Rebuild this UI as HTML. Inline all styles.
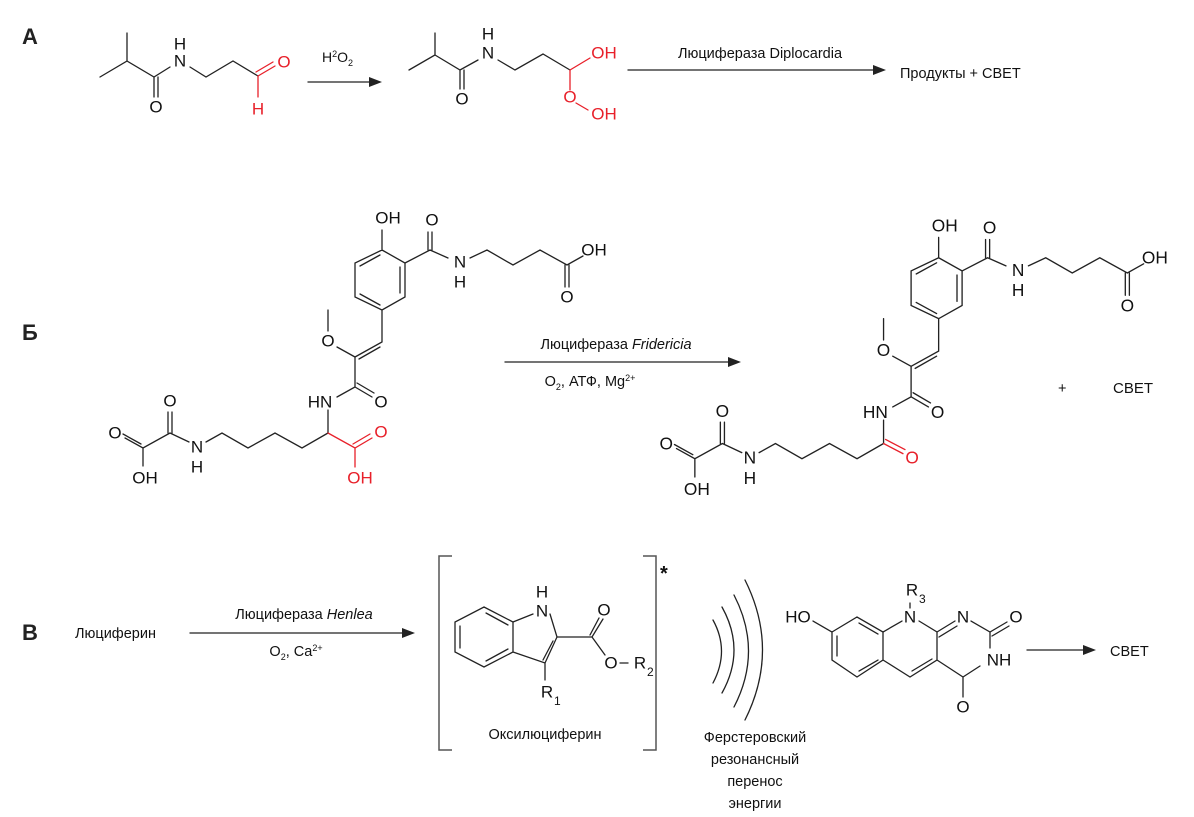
<!DOCTYPE html>
<html><head><meta charset="utf-8"><style>
html,body{margin:0;padding:0;background:#fff;}
svg{display:block;font-family:"Liberation Sans",Arial,sans-serif;}
.b{stroke:#222;stroke-width:1.3;fill:none;stroke-linecap:round}
.r{stroke:#e8202a;stroke-width:1.3;fill:none;stroke-linecap:round}
.t{fill:#111;font-size:17px;text-anchor:middle;dominant-baseline:central}
.tr{fill:#e8202a;font-size:17px;text-anchor:middle;dominant-baseline:central}
.l{fill:#111;font-size:14.5px;text-anchor:middle}
</style></head><body>
<svg width="1194" height="817" viewBox="0 0 1194 817" xmlns="http://www.w3.org/2000/svg">
<text x="22" y="44" font-size="22" font-weight="bold" fill="#222">А</text>
<text x="22" y="340" font-size="22" font-weight="bold" fill="#222">Б</text>
<text x="22" y="640" font-size="22" font-weight="bold" fill="#222">В</text>

<path class="b" d="M100,77 L127,61 L127,33 M127,61 L154,77 L170,67 M154,77 L154,97 M158,77 L158,97 M190,67 L206,77 L233,61 L258,76"/>
<text class="t" x="156" y="107">O</text>
<text class="t" x="180" y="61">N</text>
<text class="t" x="180" y="44">H</text>
<path class="r" d="M258,76 L275,66 M256,72 L273,62 M258,76 L258,97"/>
<text class="tr" x="284" y="62">O</text>
<text class="tr" x="258" y="109">H</text>
<path class="b" d="M308,82 L372,82"/><path d="M382,82 L369,77 L369,87Z" fill="#222"/>
<text x="322" y="62" font-size="14" fill="#111">H<tspan font-size="9" dy="-5">2</tspan><tspan dy="5">O</tspan><tspan font-size="9" dy="4">2</tspan></text>

<path class="b" d="M409,70 L435,55 L435,33 M435,55 L460,70 L478,60 M460,70 L460,89 M464,70 L464,89 M498,60 L515,70 L543,54 L570,70"/>
<text class="t" x="462" y="99">O</text>
<text class="t" x="488" y="53">N</text>
<text class="t" x="488" y="34">H</text>
<path class="r" d="M570,70 L590,58 M570,70 L570,90 M576,103 L588,110"/>
<text class="tr" x="604" y="53">OH</text>
<text class="tr" x="570" y="97">O</text>
<text class="tr" x="604" y="114">OH</text>
<path class="b" d="M628,70 L875,70"/><path d="M886,70 L873,65 L873,75Z" fill="#222"/>
<text class="l" x="760" y="58">Люцифераза Diplocardia</text>
<text x="900" y="78" font-size="14.5" fill="#111">Продукты + СВЕТ</text>

<g id="br">
<path class="b" d="M382,250 L382,230 M382,250 L405,263 L405,297 L382,310 L355,297 L355,263 Z M360,266 L380,255 M400,267 L400,293 M360,294 L380,305
M405,263 L430,250 L448,258 M428,250 L428,232 M432,250 L432,232 M470,258 L487,250 L513,265 L540,250 L567,265 L583,256 M565,265 L565,287 M569,265 L569,287
M382,310 L382,342 L355,357 M380,347 L359,359 M355,357 L337,347 M328,331 L328,310 M355,357 L355,387 L337,397 M355,387 L372,397 M357,383 L374,393
M328,410 L328,433"/>
<text class="t" x="388" y="218">OH</text>
<text class="t" x="432" y="220">O</text>
<text class="t" x="460" y="262">N</text>
<text class="t" x="460" y="282">H</text>
<text class="t" x="594" y="250">OH</text>
<text class="t" x="567" y="297">O</text>
<text class="t" x="328" y="341">O</text>
<text class="t" x="381" y="402">O</text>
<text class="t" x="320" y="402">HN</text>
<path class="b" d="M328,433 L302,448 L275,433 L248,448 L222,433 L206,442 M189,442 L170,433 L143,448 L125,438 M168,433 L168,412 M172,433 L172,412 M141,444 L123,434 M143,448 L143,466"/>
<text class="t" x="197" y="447">N</text>
<text class="t" x="197" y="467">H</text>
<text class="t" x="170" y="401">O</text>
<text class="t" x="115" y="433">O</text>
<text class="t" x="145" y="478">OH</text>
</g>
<path class="r" d="M328,433 L355,448 L372,438 M353,444 L370,434 M355,448 L355,467"/>
<text class="tr" x="381" y="432">O</text>
<text class="tr" x="360" y="478">OH</text>

<path class="b" d="M505,362 L730,362"/><path d="M741,362 L728,357 L728,367Z" fill="#222"/>
<text class="l" x="616" y="349">Люцифераза <tspan font-style="italic">Fridericia</tspan></text>
<text class="l" x="590" y="386">O<tspan font-size="9" dy="4">2</tspan><tspan dy="-4">, АТФ, Mg</tspan><tspan font-size="9" dy="-5">2+</tspan></text>

<g transform="translate(549,4) scale(1.02,1.015)">
<path class="b" d="M382,250 L382,230 M382,250 L405,263 L405,297 L382,310 L355,297 L355,263 Z M360,266 L380,255 M400,267 L400,293 M360,294 L380,305
M405,263 L430,250 L448,258 M428,250 L428,232 M432,250 L432,232 M470,258 L487,250 L513,265 L540,250 L567,265 L583,256 M565,265 L565,287 M569,265 L569,287
M382,310 L382,342 L355,357 M380,347 L359,359 M355,357 L337,347 M328,331 L328,310 M355,357 L355,387 L337,397 M355,387 L372,397 M357,383 L374,393
M328,410 L328,433"/>
<text class="t" x="388" y="218">OH</text>
<text class="t" x="432" y="220">O</text>
<text class="t" x="460" y="262">N</text>
<text class="t" x="460" y="282">H</text>
<text class="t" x="594" y="250">OH</text>
<text class="t" x="567" y="297">O</text>
<text class="t" x="328" y="341">O</text>
<text class="t" x="381" y="402">O</text>
<text class="t" x="320" y="402">HN</text>
<path class="b" d="M328,433 L302,448 L275,433 L248,448 L222,433 L206,442 M189,442 L170,433 L143,448 L125,438 M168,433 L168,412 M172,433 L172,412 M141,444 L123,434 M143,448 L143,466"/>
<text class="t" x="197" y="447">N</text>
<text class="t" x="197" y="467">H</text>
<text class="t" x="170" y="401">O</text>
<text class="t" x="115" y="433">O</text>
<text class="t" x="145" y="478">OH</text>
<path class="r" d="M328,433 L347,443 M330,429 L349,439"/>
<text class="tr" x="356" y="447">O</text>
</g>
<text x="1058" y="393" font-size="14.5" fill="#111">+</text>
<text x="1113" y="393" font-size="15" fill="#111">СВЕТ</text>

<text x="75" y="638" font-size="14.5" fill="#111">Люциферин</text>
<path class="b" d="M190,633 L404,633"/><path d="M415,633 L402,628 L402,638Z" fill="#222"/>
<text class="l" x="304" y="619">Люцифераза <tspan font-style="italic">Henlea</tspan></text>
<text class="l" x="296" y="656">O<tspan font-size="9" dy="4">2</tspan><tspan dy="-4">, Ca</tspan><tspan font-size="9" dy="-5">2+</tspan></text>

<path d="M452,556 L439,556 L439,750 L452,750 M643,556 L656,556 L656,750 L643,750" stroke="#555" stroke-width="1.5" fill="none"/>
<text x="660" y="580" font-size="20" font-weight="bold" fill="#111">*</text>

<path class="b" d="M484,607 L513,622 L513,652 L484,667 L455,652 L455,622 Z M460,626 L460,648 M486,613 L508,625 M486,661 L508,649
M513,622 L533,614 M550,614 L557,637 L545,663 L513,652 M553,641 L543,660 M545,663 L545,680 M557,637 L592,637 L603,619 M590,635 L599,618 M592,637 L605,655"/>
<text class="t" x="542" y="611">N</text>
<text class="t" x="542" y="592">H</text>
<text class="t" x="604" y="610">O</text>
<text class="t" x="611" y="663">O</text>
<path class="b" d="M620,663 L628,663"/>
<text class="t" x="640" y="663">R</text><text x="647" y="676" font-size="12" fill="#111">2</text>
<text class="t" x="547" y="692">R</text><text x="554" y="705" font-size="12" fill="#111">1</text>
<text class="l" x="545" y="739">Оксилюциферин</text>

<path class="b" d="M713,620 Q730,651 713,683 M722,607 Q746,650 722,693 M734,595 Q763,651 734,707 M745,580 Q780,650 745,720"/>
<text class="l" x="755" y="742">Ферстеровский</text>
<text class="l" x="755" y="764">резонансный</text>
<text class="l" x="755" y="786">перенос</text>
<text class="l" x="755" y="808">энергии</text>

<path class="b" d="M813,621 L832,632 M832,632 L857,617 L883,632 L883,660 L857,677 L832,660 Z M837,636 L837,656 M859,623 L878,634 M859,671 L878,660
M883,632 L902,621 M919,621 L937,632 L937,660 L910,677 L883,660 M912,671 L932,659 M910,603 L910,608
M937,632 L955,621 M939,637 L957,626 M971,621 L990,632 L1007,622 M992,636 L1009,626 M990,632 L990,648 M980,666 L963,677 L937,660 M963,677 L963,697"/>
<text class="t" x="798" y="617">HO</text>
<text class="t" x="910" y="617">N</text>
<text class="t" x="912" y="590">R</text><text x="919" y="603" font-size="12" fill="#111">3</text>
<text class="t" x="963" y="617">N</text>
<text class="t" x="1016" y="617">O</text>
<text class="t" x="999" y="660">NH</text>
<text class="t" x="963" y="707">O</text>
<path class="b" d="M1027,650 L1085,650"/><path d="M1096,650 L1083,645 L1083,655Z" fill="#222"/>
<text x="1110" y="656" font-size="14.5" fill="#111">СВЕТ</text>
</svg>
</body></html>
